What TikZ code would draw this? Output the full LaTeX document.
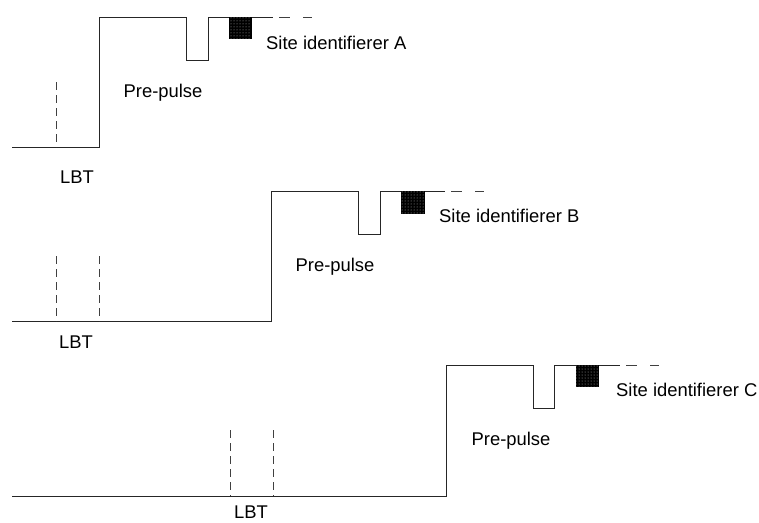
\documentclass[tikz,border=0pt]{standalone}
\usepackage{fontspec}
\setmainfont{Liberation Sans}
\usetikzlibrary{patterns}
\begin{document}
\begin{tikzpicture}[x=1pt,y=-1pt,
  sig/.style={line width=1pt,draw=black!85,line join=miter},
  lbtline/.style={line width=0.8pt,draw=black!75,dash pattern=on 8pt off 5pt},
  tail/.style={line width=0.8pt,draw=black!75,dash pattern=on 0pt off 6pt on 11pt off 7pt},
  lab/.style={font=\fontsize{18.4}{21}\selectfont,inner sep=0pt},
  idbox/.style={fill=black,draw=black,line width=0.5pt}]
\useasboundingbox (0,0) rectangle (759,522);
% ---- Panel A
\draw[sig] (12,147) -- (99,147) -- (99,17) -- (186,17) -- (186,60) -- (208,60) -- (208,17) -- (273,17);
\draw[tail] (273,17) -- (312,17);
\draw[idbox] (229,17) rectangle (251,38);
\fill[pattern=dots,pattern color=white!70!black] (229,17) rectangle (251,38);
\draw[lbtline] (56,82) -- (56,147);
\node[lab] (preA) at (163,93) {Pre-pulse};
\node[lab,anchor=west] (siteA) at (266,43) {Site identifierer A};
\node[lab] (lbtA) at (77,177) {LBT};
% ---- Panel B
\draw[sig] (12,321) -- (271,321) -- (271,191) -- (358,191) -- (358,234) -- (380,234) -- (380,191) -- (445,191);
\draw[tail] (445,191) -- (484,191);
\draw[idbox] (401,191) rectangle (424,213);
\fill[pattern=dots,pattern color=white!70!black] (401,191) rectangle (424,213);
\draw[lbtline] (56,256) -- (56,321);
\draw[lbtline] (99,256) -- (99,321);
\node[lab] (preB) at (335,267) {Pre-pulse};
\node[lab,anchor=west] (siteB) at (439,216) {Site identifierer B};
\node[lab] (lbtB) at (76,342) {LBT};
% ---- Panel C
\draw[sig] (12,496) -- (446,496) -- (446,365) -- (533,365) -- (533,408) -- (554,408) -- (554,365) -- (620,365);
\draw[tail] (620,365) -- (659,365);
\draw[idbox] (576,365) rectangle (598,386);
\fill[pattern=dots,pattern color=white!70!black] (576,365) rectangle (598,386);
\draw[lbtline] (230,430) -- (230,496);
\draw[lbtline] (273,430) -- (273,496);
\node[lab] (preC) at (511,441) {Pre-pulse};
\node[lab,anchor=west] (siteC) at (616,390) {Site identifierer C};
\node[lab] (lbtC) at (251,512) {LBT};
\end{tikzpicture}
\end{document}
